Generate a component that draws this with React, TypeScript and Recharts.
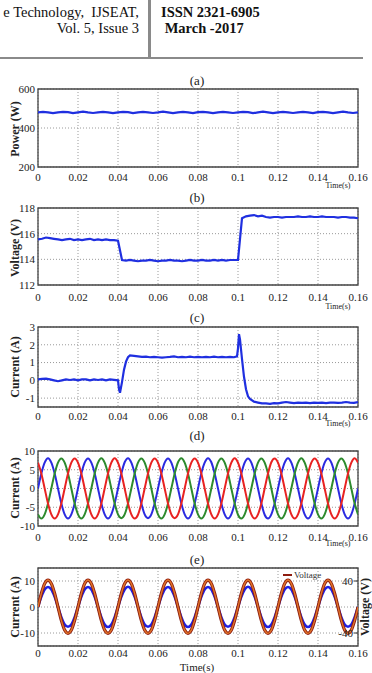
import React from 'react';
import { LineChart, Line, XAxis, YAxis, CartesianGrid, ReferenceArea } from 'recharts';

const timeTicks = [0, 0.02, 0.04, 0.06, 0.08, 0.1, 0.12, 0.14, 0.16];

// (a) power, one sample every 2.5 ms
const powerW = [
  480, 483, 480, 476, 480, 483, 481, 476, 480, 484, 480, 477, 480, 483, 480, 476,
  480, 483, 481, 476, 480, 483, 480, 477, 480, 484, 480, 476, 480, 483, 480, 476,
  481, 483, 480, 476, 480, 483, 480, 477, 480, 483, 481, 476, 480, 484, 480, 476,
  480, 483, 480, 477, 480, 483, 480, 476, 481, 483, 480, 476, 480, 484, 480, 477,
  480,
];
const powerTicks = [200, 400, 600];

// (b) dc voltage, one sample every 2 ms
const voltageV = [
  115.55, 115.6, 115.7, 115.65, 115.6, 115.55, 115.5, 115.55, 115.6, 115.5,
  115.55, 115.5, 115.55, 115.6, 115.5, 115.55, 115.5, 115.55, 115.5, 115.5,
  115.45, 113.95,
  113.9, 113.95, 113.9, 113.85, 113.9, 113.9, 113.95, 113.9, 113.85, 113.9,
  113.9, 113.95, 113.9, 113.9, 113.85, 113.9, 113.95, 113.9, 113.9, 113.95,
  113.9, 113.9, 113.95, 113.9, 113.95, 113.9, 113.95, 113.95,
  113.95, 117.2,
  117.35, 117.4, 117.45, 117.35, 117.4, 117.3, 117.25, 117.3, 117.3, 117.25,
  117.3, 117.3, 117.3, 117.35, 117.3, 117.3, 117.35, 117.3, 117.3, 117.35,
  117.3, 117.3, 117.3, 117.25, 117.3, 117.3, 117.25, 117.25, 117.2,
];
const voltageTicks = [112, 114, 116, 118];

// (c) dc current
const currentTime = [
  0, 0.002, 0.004, 0.006, 0.008, 0.01, 0.012, 0.014, 0.016, 0.018,
  0.02, 0.022, 0.024, 0.026, 0.028, 0.03, 0.032, 0.034, 0.036, 0.038,
  0.04, 0.0405, 0.041, 0.042, 0.043, 0.044, 0.045, 0.046,
  0.048, 0.05, 0.052, 0.054, 0.056, 0.058, 0.06, 0.062, 0.064, 0.066,
  0.068, 0.07, 0.072, 0.074, 0.076, 0.078, 0.08, 0.082, 0.084, 0.086,
  0.088, 0.09, 0.092, 0.094, 0.096, 0.098,
  0.0995, 0.1, 0.1005, 0.101, 0.102, 0.103, 0.104, 0.105, 0.106, 0.108, 0.11, 0.112,
  0.114, 0.116, 0.118, 0.12, 0.122, 0.124, 0.126, 0.128, 0.13, 0.132,
  0.134, 0.136, 0.138, 0.14, 0.142, 0.144, 0.146, 0.148, 0.15, 0.152,
  0.154, 0.156, 0.158, 0.16,
];
const currentA = [
  0.05, 0.08, 0.1, 0.05, 0, -0.05, 0, 0.05, 0.02, 0.05,
  0, 0.05, 0.05, 0, 0.05, 0.02, 0.05, 0, 0.05, 0.03,
  0, -0.5, -0.7, -0.1, 0.6, 1.05, 1.3, 1.4,
  1.38, 1.35, 1.32, 1.33, 1.3, 1.32, 1.3, 1.28, 1.3, 1.32,
  1.35, 1.3, 1.32, 1.3, 1.33, 1.3, 1.32, 1.3, 1.32, 1.3,
  1.33, 1.3, 1.32, 1.3, 1.32, 1.3,
  1.35, 1.8, 2.6, 2.3, 1.2, 0.2, -0.5, -0.9, -1.05, -1.2, -1.25, -1.3,
  -1.3, -1.32, -1.28, -1.3, -1.25, -1.22, -1.25, -1.28, -1.25, -1.27,
  -1.25, -1.28, -1.25, -1.27, -1.25, -1.28, -1.25, -1.25, -1.27, -1.25,
  -1.22, -1.25, -1.27, -1.22,
];
const currentTicks = [-1, 0, 1, 2, 3];

// (d) three phase currents, one sample every 1/600 s
const phaseBlue = [
  0, 4, 6.9, 8.1, 6.9, 4, 0, -4, -6.9, -8, -6.9, -4,
  0.1, 4, 6.9, 8, 6.9, 4.1, 0, -4, -6.9, -8, -6.9, -4,
  0, 4, 7, 8.1, 6.9, 4, 0, -4, -6.9, -7.9, -6.9, -4,
  0, 4, 6.9, 8, 6.9, 4, 0, -4, -6.9, -8, -6.9, -4,
  0, 4.1, 6.9, 8.1, 7, 4, 0, -4, -6.9, -8, -6.9, -4,
  0, 4, 6.9, 8, 6.9, 4, 0, -4, -7, -8, -6.9, -4,
  0, 4, 6.9, 8.1, 6.9, 4, 0, -4, -6.9, -8, -6.9, -4,
  0, 4, 6.9, 8, 6.9, 4, 0, -4, -6.9, -8, -6.9, -4,
  0,
];
const phaseGreen = [
  -6.9, -8, -6.9, -4, 0, 4, 6.9, 8, 6.9, 4, 0, -4,
  -6.9, -8, -6.9, -4, 0, 4, 6.9, 8.1, 6.9, 4, 0, -4,
  -6.9, -7.9, -6.9, -4, 0, 4, 6.9, 8, 6.9, 4, 0, -4,
  -6.9, -8, -6.9, -4, 0, 4, 7, 8.1, 6.9, 4, 0, -4,
  -6.9, -8, -6.9, -4, 0, 4, 6.9, 8, 6.9, 4, 0, -4,
  -7, -8, -6.9, -4, 0, 4, 6.9, 8, 6.9, 4, 0, -4,
  -6.9, -8, -6.9, -4, 0, 4, 6.9, 8.1, 6.9, 4, 0, -4,
  -6.9, -8, -6.9, -4, 0, 4, 6.9, 8, 6.9, 4, 0, -4,
  -6.9,
];
const phaseRed = [
  6.9, 4, 0, -4, -6.9, -8, -6.9, -4, 0, 4, 6.9, 8,
  6.9, 4, 0, -4, -6.9, -8, -6.9, -4, 0, 4, 6.9, 8.1,
  6.9, 4, 0, -4, -6.9, -8, -7, -4, 0, 4, 6.9, 8,
  6.9, 4, 0, -4, -6.9, -7.9, -6.9, -4, 0, 4, 6.9, 8,
  6.9, 4, 0, -4, -6.9, -8, -6.9, -4, 0, 4, 6.9, 8.1,
  6.9, 4, 0, -4, -6.9, -8, -6.9, -4, 0, 4, 7, 8,
  6.9, 4, 0, -4, -6.9, -8, -6.9, -4, 0, 4, 6.9, 8,
  6.9, 4, 0, -4, -6.9, -8, -6.9, -4, 0, 4, 6.9, 8.1,
  6.9,
];
const phaseTicks = [-10, -5, 0, 5, 10];

// (e) grid current and voltage, one sample every 1/600 s
const gridCurrent = [
  0, 3.9, 6.7, 7.7, 6.7, 3.9, 0, -3.9, -6.7, -7.6, -6.7, -3.9,
  0, 3.9, 6.7, 7.7, 6.7, 3.9, 0, -3.9, -6.7, -7.7, -6.7, -3.9,
  0, 3.9, 6.7, 7.8, 6.7, 3.9, 0, -3.9, -6.7, -7.6, -6.7, -3.9,
  0, 3.9, 6.7, 7.7, 6.7, 3.9, 0, -3.9, -6.7, -7.7, -6.7, -3.9,
  0, 3.9, 6.7, 7.7, 6.7, 3.9, 0, -3.9, -6.7, -7.6, -6.7, -3.9,
  0, 3.9, 6.7, 7.8, 6.7, 3.9, 0, -3.9, -6.7, -7.7, -6.7, -3.9,
  0, 3.9, 6.7, 7.7, 6.7, 3.9, 0, -3.9, -6.7, -7.7, -6.7, -3.9,
  0, 3.9, 6.7, 7.7, 6.7, 3.9, 0, -3.9, -6.7, -7.6, -6.7, -3.9,
  0,
];
const gridVoltage = [
  0, 20.8, 36, 41.5, 36, 20.8, 0, -20.5, -35.5, -40.5, -35.5, -20.5,
  0, 20.8, 36, 41.5, 36, 20.8, 0, -20.5, -35.5, -40.5, -35.5, -20.5,
  0, 20.8, 36, 41.5, 36, 20.8, 0, -20.5, -35.5, -40.5, -35.5, -20.5,
  0, 20.8, 36, 41.5, 36, 20.8, 0, -20.5, -35.5, -40.5, -35.5, -20.5,
  0, 20.8, 36, 41.5, 36, 20.8, 0, -20.5, -35.5, -40.5, -35.5, -20.5,
  0, 20.8, 36, 41.5, 36, 20.8, 0, -20.5, -35.5, -40.5, -35.5, -20.5,
  0, 20.8, 36, 41.5, 36, 20.8, 0, -20.5, -35.5, -40.5, -35.5, -20.5,
  0, 20.8, 36, 41.5, 36, 20.8, 0, -20.5, -35.5, -40.5, -35.5, -20.5,
  0,
];
const gridCurrentTicks = [-10, 0, 10];
const gridVoltageTicks = [-40, 40];

const SERIF = '"Liberation Serif", "Times New Roman", serif';
const BLUE = '#1f2fe0';
const TOP_PAD = 8;
const tickStyle = { fill: '#222', fontSize: 11, fontFamily: SERIF };

const fmtTime = (v: number) => String(Number(v.toFixed(2)));
const sampleTimes = (n: number, dt: number) => Array.from({ length: n }, (_, i) => Number((i * dt).toFixed(6)));

const buildRows = (times: number[], series: Record<string, number[]>) =>
  times.map((t, i) => {
    const row: Record<string, number> = { t };
    Object.keys(series).forEach((k) => { row[k] = series[k][i]; });
    return row;
  });

const powerData = buildRows(sampleTimes(powerW.length, 0.0025), { p: powerW });
const voltageData = buildRows(sampleTimes(voltageV.length, 0.002), { v: voltageV });
const currentData = buildRows(currentTime, { i: currentA });
const phaseData = buildRows(sampleTimes(phaseBlue.length, 1 / 600), { a: phaseBlue, b: phaseGreen, c: phaseRed });
const gridData = buildRows(sampleTimes(gridCurrent.length, 1 / 600), { i: gridCurrent, v: gridVoltage });

type PanelProps = {
  top: number;
  boxH: number;
  data: Record<string, number>[];
  xMargin: number;
  yDomain: [number, number];
  yTicks: number[];
  children?: React.ReactNode;
};

const Panel = ({ top, boxH, data, xMargin, yDomain, yTicks, children }: PanelProps) => (
  <div style={{ position: 'absolute', left: 0, top: top - TOP_PAD }}>
    <LineChart width={372} height={boxH + TOP_PAD + 20} data={data} margin={{ top: TOP_PAD, right: 14, bottom: 0, left: 0 }}>
      <CartesianGrid stroke="#9a9a9a" strokeDasharray="1 2" />
      <XAxis
        dataKey="t"
        type="number"
        domain={[0, 0.16]}
        ticks={timeTicks}
        tickFormatter={fmtTime}
        interval={0}
        axisLine={false}
        tickLine={false}
        tickSize={0}
        tickMargin={xMargin}
        height={20}
        tick={tickStyle}
        allowDataOverflow
      />
      <YAxis
        type="number"
        domain={yDomain}
        ticks={yTicks}
        interval={0}
        width={38}
        axisLine={false}
        tickLine={false}
        tickSize={0}
        tickMargin={3}
        tick={tickStyle}
        allowDataOverflow
      />
      {children}
      <ReferenceArea
        x1={0}
        x2={0.16}
        y1={yDomain[0]}
        y2={yDomain[1]}
        fill="none"
        fillOpacity={0}
        stroke="#444"
        strokeWidth={1.3}
        ifOverflow="visible"
      />
    </LineChart>
  </div>
);

const Note = ({ x, y, size, text, bold = false, rotate = false }: { x: number; y: number; size: number; text: string; bold?: boolean; rotate?: boolean }) => (
  <div
    style={{
      position: 'absolute',
      left: x,
      top: y,
      transform: `translate(-50%, -50%)${rotate ? ' rotate(-90deg)' : ''}`,
      fontFamily: SERIF,
      fontSize: size,
      fontWeight: bold ? 'bold' : 'normal',
      color: '#222',
      whiteSpace: 'nowrap',
      lineHeight: 1,
    }}
  >
    {text}
  </div>
);

export default function App() {
  return (
    <div style={{ position: 'absolute', left: 0, top: 0, width: 372, height: 673, background: '#fff', overflow: 'hidden' }}>
      {/* journal header */}
      <div style={{ position: 'absolute', right: 233, top: 4, fontFamily: SERIF, fontSize: 14.5, lineHeight: '16px', textAlign: 'right', color: '#111', whiteSpace: 'nowrap' }}>
        e Technology,&nbsp; IJSEAT,<br />Vol. 5, Issue 3
      </div>
      <div style={{ position: 'absolute', left: 161, top: 4, fontFamily: SERIF, fontSize: 14.5, lineHeight: '16px', fontWeight: 'bold', color: '#111', whiteSpace: 'nowrap' }}>
        ISSN 2321-6905<br />&nbsp;March -2017
      </div>
      <div style={{ position: 'absolute', left: 148, top: 0, width: 3, height: 58, background: '#8a8a8a' }} />
      <div style={{ position: 'absolute', left: 0, top: 57, width: 363, height: 2, background: '#8a8a8a' }} />

      {/* (a) */}
      <Note x={197} y={80} size={13} text="(a)" />
      <Panel top={89} boxH={78} data={powerData} xMargin={6} yDomain={[200, 600]} yTicks={powerTicks}>
        <Line type="linear" dataKey="p" stroke={BLUE} strokeWidth={2.2} dot={false} isAnimationActive={false} />
      </Panel>
      <Note x={15} y={129} size={12} bold rotate text="Power (W)" />
      <Note x={338} y={186} size={8} text="Time(s)" />

      {/* (b) */}
      <Note x={197} y={197} size={13} text="(b)" />
      <Panel top={208} boxH={77} data={voltageData} xMargin={8} yDomain={[112, 118]} yTicks={voltageTicks}>
        <Line type="linear" dataKey="v" stroke={BLUE} strokeWidth={2.2} dot={false} isAnimationActive={false} />
      </Panel>
      <Note x={15} y={248} size={12} bold rotate text="Voltage (V)" />
      <Note x={338} y={307} size={8} text="Time(s)" />

      {/* (c) */}
      <Note x={197} y={317} size={13} text="(c)" />
      <Panel top={327} boxH={80} data={currentData} xMargin={5} yDomain={[-1.5, 3]} yTicks={currentTicks}>
        <Line type="linear" dataKey="i" stroke={BLUE} strokeWidth={2.2} dot={false} isAnimationActive={false} />
      </Panel>
      <Note x={15} y={367} size={12} bold rotate text="Current (A)" />
      <Note x={338} y={424} size={8} text="Time(s)" />

      {/* (d) */}
      <Note x={197} y={435} size={13} text="(d)" />
      <Panel top={451} boxH={75} data={phaseData} xMargin={7} yDomain={[-10, 10]} yTicks={phaseTicks}>
        <Line type="monotone" dataKey="a" stroke="#2a2ae0" strokeWidth={2} dot={false} isAnimationActive={false} />
        <Line type="monotone" dataKey="b" stroke="#2e8b2e" strokeWidth={2} dot={false} isAnimationActive={false} />
        <Line type="monotone" dataKey="c" stroke="#e82222" strokeWidth={2} dot={false} isAnimationActive={false} />
      </Panel>
      <Note x={15} y={488} size={12} bold rotate text="Current (A)" />
      <Note x={338} y={544} size={8} text="Time(s)" />

      {/* (e) */}
      <Note x={197} y={559} size={13} text="(e)" />
      <Panel top={568} boxH={78} data={gridData} xMargin={3} yDomain={[-15, 15]} yTicks={gridCurrentTicks}>
        <YAxis
          yAxisId="volt"
          orientation="right"
          mirror
          type="number"
          domain={[-60, 60]}
          ticks={gridVoltageTicks}
          interval={0}
          width={20}
          axisLine={false}
          tickLine={{ stroke: '#333' }}
          tickSize={4}
          tickMargin={1}
          tick={tickStyle}
        />
        <Line type="monotone" dataKey="i" stroke="#2020e0" strokeWidth={2.6} dot={false} isAnimationActive={false} />
        <Line yAxisId="volt" type="monotone" dataKey="v" stroke="#8e1c10" strokeWidth={3.2} dot={false} isAnimationActive={false} />
        <Line yAxisId="volt" type="monotone" dataKey="v" stroke="#e07428" strokeWidth={1.4} dot={false} isAnimationActive={false} />
      </Panel>
      <Note x={15} y={607} size={12} bold rotate text="Current (A)" />
      <Note x={365} y={607} size={12} bold rotate text="Voltage (V)" />
      <div style={{ position: 'absolute', left: 283, top: 570, display: 'flex', alignItems: 'center', fontFamily: SERIF, fontSize: 9, color: '#333', lineHeight: '10px' }}>
        <span style={{ display: 'inline-block', width: 9, height: 2.5, background: '#8e1c10', marginRight: 2 }} />
        Voltage
      </div>
      <Note x={197} y={667} size={11} text="Time(s)" />
    </div>
  );
}
